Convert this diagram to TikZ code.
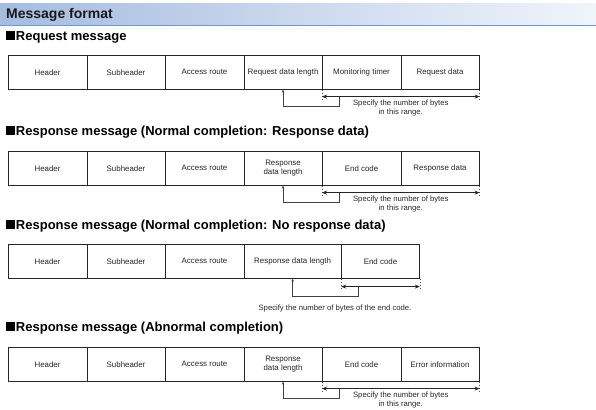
\documentclass[tikz,border=0pt]{standalone}
\usepackage{fontspec}
\setmainfont{Liberation Sans}
\usetikzlibrary{arrows.meta,calc}
\definecolor{barleft}{RGB}{166,188,224}
\definecolor{barright}{RGB}{240,244,251}
\definecolor{barline}{RGB}{106,154,208}
\newcommand\blk{\rule{9pt}{9pt}\hspace{0.8pt}}
\begin{document}
\begin{tikzpicture}[x=1pt,y=-1pt,
  cell/.style={draw=black!70,line width=0.6pt,anchor=north west,minimum width=78.5pt,minimum height=34pt,inner sep=0pt,align=center,font=\fontsize{7.9}{9}\selectfont,black!85},
  heading/.style={anchor=west,inner sep=0pt,font=\fontsize{13}{15}\selectfont\bfseries},
  spanarrow/.style={{Stealth[length=5pt,width=4pt]}-{Stealth[length=5pt,width=4pt]},line width=1.6pt,black!85},
  pointer/.style={-{Stealth[length=3pt,width=2.4pt]},line width=0.5pt,black!75},
  guide/.style={dash pattern=on 1.5pt off 1.5pt,line width=0.6pt,black!70},
  note/.style={align=center,inner sep=0pt,font=\fontsize{7.7}{9}\selectfont,black!85}]
\useasboundingbox (0,0) rectangle (596,409);
\shade[left color=barleft,right color=barright] (0,4) rectangle (596,25);
\draw[line width=1.5pt,barline] (0,25.5) -- (596,25.5);
\node[anchor=west,inner sep=0pt,font=\fontsize{14}{16}\selectfont\bfseries,black!90] (title) at (6,14.5) {Message format};

\node[heading] (h1) at (6,37) {\blk Request message};
\foreach \lbl [count=\i] in {Header,Subheader,Access route,Request data length,Monitoring timer,Request data}
  \node[cell] (a\i) at ({8+78.5*(\i-1)},55) {\lbl};
\coordinate (s1) at ([yshift=-7pt]a5.south west);
\coordinate (e1) at ([yshift=-7pt]a6.south east);
\draw[guide] (a5.south west) -- ++(0,12);
\draw[guide] (a6.south east) -- ++(0,12);
\draw[spanarrow] (s1) -- (e1);
\draw[pointer] ([xshift=17pt]s1) -- ++(0,10) -| (a4.south);
\node[note,anchor=north] (n1) at ([yshift=-3pt]$(s1)!0.5!(e1)$) {Specify the number of bytes\\in this range.};

\node[heading] (h2) at (6,132) {\blk Response message (Normal completion: Response data)};
\foreach \lbl [count=\i] in {Header,Subheader,Access route,Response\\data length,End code,Response data}
  \node[cell] (b\i) at ({8+78.5*(\i-1)},151) {\lbl};
\coordinate (s2) at ([yshift=-7pt]b5.south west);
\coordinate (e2) at ([yshift=-7pt]b6.south east);
\draw[guide] (b5.south west) -- ++(0,12);
\draw[guide] (b6.south east) -- ++(0,12);
\draw[spanarrow] (s2) -- (e2);
\draw[pointer] ([xshift=17pt]s2) -- ++(0,10) -| (b4.south);
\node[note,anchor=north] (n2) at ([yshift=-3pt]$(s2)!0.5!(e2)$) {Specify the number of bytes\\in this range.};

\node[heading] (h3) at (6,226) {\blk Response message (Normal completion: No response data)};
\foreach \lbl [count=\i] in {Header,Subheader,Access route}
  \node[cell] (c\i) at ({8+78.5*(\i-1)},244) {\lbl};
\node[cell,minimum width=96.5pt] (c4) at (c3.north east) {Response data length};
\node[cell,minimum width=78pt] (c5) at (c4.north east) {End code};
\coordinate (s3) at ([yshift=-8pt]c5.south west);
\coordinate (e3) at ([yshift=-8pt]c5.south east);
\draw[guide] (c5.south west) -- ++(0,12);
\draw[guide] (c5.south east) -- ++(0,12);
\draw[spanarrow] (s3) -- (e3);
\draw[pointer] ([xshift=17pt]s3) -- ++(0,10) -| (c4.south);
\node[note] (n3) at (335,309) {Specify the number of bytes of the end code.};

\node[heading] (h4) at (6,328) {\blk Response message (Abnormal completion)};
\foreach \lbl [count=\i] in {Header,Subheader,Access route,Response\\data length,End code,Error information}
  \node[cell] (d\i) at ({8+78.5*(\i-1)},347) {\lbl};
\coordinate (s4) at ([yshift=-7pt]d5.south west);
\coordinate (e4) at ([yshift=-7pt]d6.south east);
\draw[guide] (d5.south west) -- ++(0,12);
\draw[guide] (d6.south east) -- ++(0,12);
\draw[spanarrow] (s4) -- (e4);
\draw[pointer] ([xshift=17pt]s4) -- ++(0,10) -| (d4.south);
\node[note,anchor=north] (n4) at ([yshift=-3pt]$(s4)!0.5!(e4)$) {Specify the number of bytes\\in this range.};
\end{tikzpicture}
\end{document}
